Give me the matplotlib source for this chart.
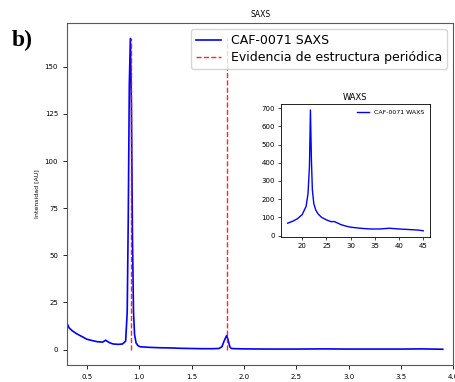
import numpy as np
import matplotlib.pyplot as plt

# SAXS curve (q, intensity)
saxs_q = [0.31, 0.33, 0.36, 0.40, 0.45, 0.50, 0.55, 0.60, 0.65, 0.68, 0.70, 0.72,
          0.75, 0.80, 0.84, 0.87, 0.885, 0.895, 0.905, 0.915, 0.925, 0.935, 0.945,
          0.955, 0.97, 0.99, 1.01, 1.10, 1.20, 1.30, 1.40, 1.50, 1.60, 1.70, 1.76,
          1.79, 1.81, 1.835, 1.85, 1.865, 1.88, 1.92, 2.00, 2.25, 2.50, 2.75, 3.00,
          3.25, 3.50, 3.70, 3.90]
saxs_i = [14.0, 11.5, 10.0, 8.5, 7.0, 5.5, 4.8, 4.2, 4.0, 5.0, 4.2, 3.6,
          3.0, 2.8, 3.0, 4.5, 20.0, 70.0, 140.0, 165.0, 130.0, 60.0, 20.0,
          8.0, 3.5, 2.0, 1.5, 1.2, 1.0, 0.9, 0.7, 0.6, 0.5, 0.5, 0.6,
          1.5, 4.5, 7.5, 5.0, 1.5, 0.6, 0.5, 0.4, 0.3, 0.3, 0.4, 0.3,
          0.3, 0.3, 0.4, 0.2]

# positions of the periodic-structure peaks
peak_q = [0.92, 1.84]

# WAXS curve (2theta, intensity)
waxs_x = [17.0, 18.0, 19.0, 20.0, 20.8, 21.2, 21.5, 21.7, 21.9, 22.1, 22.4, 22.8,
          23.3, 24.0, 25.0, 26.0, 26.6, 27.2, 28.0, 29.0, 30.0, 32.0, 34.0, 36.0,
          38.0, 40.0, 42.0, 44.0, 45.0]
waxs_y = [68.0, 78.0, 92.0, 115.0, 160.0, 230.0, 380.0, 690.0, 420.0, 250.0, 175.0, 140.0,
          118.0, 100.0, 86.0, 76.0, 77.0, 70.0, 60.0, 52.0, 46.0, 40.0, 36.0, 36.0,
          40.0, 36.0, 33.0, 30.0, 26.0]

fig = plt.figure(figsize=(4.56, 3.82), dpi=100)
ax = fig.add_axes([0.147, 0.044, 0.847, 0.896])

ax.plot(saxs_q, saxs_i, color="blue", linewidth=1.2, label="CAF-0071 SAXS")
ax.vlines(peak_q, 0, max(saxs_i), colors="red", linestyles="--", linewidth=1.0,
          alpha=0.85, label="Evidencia de estructura periódica")
ax.set_xlim(0.31, 4.0)
ax.set_xticks([0.5, 1.0, 1.5, 2.0, 2.5, 3.0, 3.5, 4.0])
ax.set_xticklabels(["0.5", "1.0", "1.5", "2.0", "2.5", "3.0", "3.5", "4.0"])
ax.set_yticks([0, 25, 50, 75, 100, 125, 150])
ax.tick_params(labelsize=5, width=0.6, length=3)
ax.set_title("SAXS", fontsize=5.5, pad=4)
ax.set_ylabel("Intensidad [AU]", fontsize=4.5)
for s in ax.spines.values():
    s.set_linewidth(0.8)
    s.set_color("0.35")
ax.legend(loc="upper right", fontsize=9, framealpha=0.8, handlelength=2.0,
          borderpad=0.4, labelspacing=0.3)

# inset with the WAXS pattern
ins = fig.add_axes([0.616, 0.380, 0.327, 0.348])
ins.plot(waxs_x, waxs_y, color="blue", linewidth=1.0, label="CAF-0071 WAXS")
ins.set_yticks([0, 100, 200, 300, 400, 500, 600, 700])
ins.set_xticks([20, 25, 30, 35, 40, 45])
ins.tick_params(labelsize=5, width=0.5, length=2.5, pad=2)
ins.set_title("WAXS", fontsize=6, pad=3)
for s in ins.spines.values():
    s.set_linewidth(0.6)
ins.legend(loc="upper right", fontsize=4.5, frameon=False)

fig.text(0.025, 0.895, "b)", fontsize=17, fontweight="bold",
         family="Liberation Serif", va="center")

fig.savefig("out.png", dpi=100)
